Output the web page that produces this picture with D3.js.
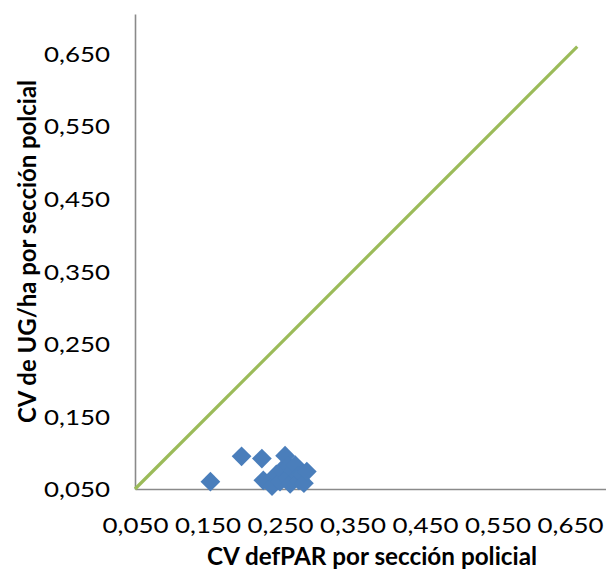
<!DOCTYPE html>
<html>
<head>
<meta charset="utf-8">
<script src="https://cdn.jsdelivr.net/npm/d3@7"></script>
<style>
  html, body { margin: 0; padding: 0; background: #ffffff; }
  svg { display: block; }
  text { font-family: Lato, "Open Sans", sans-serif; fill: #000; }
</style>
</head>
<body>
<svg id="chart" width="606" height="581"></svg>
<script>
// CV of defPAR (x) against CV of UG/ha (y), one point per police section
const cvDefPar = [0.154, 0.197, 0.225, 0.227, 0.239, 0.245, 0.250, 0.252, 0.257, 0.260, 0.262, 0.264, 0.268, 0.271, 0.275, 0.276, 0.280, 0.283, 0.287];
const cvUgHa   = [0.060, 0.095, 0.092, 0.062, 0.054, 0.070, 0.060, 0.076, 0.096, 0.065, 0.082, 0.057, 0.075, 0.083, 0.068, 0.062, 0.070, 0.058, 0.074];

// 1:1 reference line
const refLineX = [0.05, 0.66];
const refLineY = [0.05, 0.66];

const tickValues = [0.05, 0.15, 0.25, 0.35, 0.45, 0.55, 0.65];
const xTitle = "CV defPAR por sección policial";
const yTitle = "CV de UG/ha por sección polcial";

const svg = d3.select("#chart");

const x = d3.scaleLinear().domain([0.05, 0.7]).range([135, 606.25]);
const y = d3.scaleLinear().domain([0.05, 0.705]).range([489, 14]);

const esLocale = d3.formatLocale({ decimal: ",", thousands: ".", grouping: [3], currency: ["", " €"] });
const fmt = esLocale.format(".3f");

// Axes
const xAxis = svg.append("g")
  .attr("transform", `translate(0,${y(0.05)})`)
  .call(d3.axisBottom(x).tickValues(tickValues).tickSize(0).tickPadding(0).tickFormat(fmt));
const yAxis = svg.append("g")
  .attr("transform", `translate(${x(0.05)},0)`)
  .call(d3.axisLeft(y).tickValues(tickValues).tickSize(0).tickPadding(0).tickFormat(fmt));

[xAxis, yAxis].forEach(g => {
  g.select(".domain").attr("stroke", "#8a8a8a").attr("stroke-width", 1.6);
  g.selectAll("text").attr("font-size", 21).attr("fill", "#000")
    .attr("textLength", 66).attr("lengthAdjust", "spacingAndGlyphs");
});
xAxis.selectAll(".tick text").attr("y", 44).attr("dy", 0).attr("text-anchor", "middle");
yAxis.selectAll(".tick text").attr("x", -25).attr("dy", "0.36em").attr("text-anchor", "end");

// 1:1 line
const line = d3.line().x(d => x(d[0])).y(d => y(d[1]));
svg.append("path")
  .datum(d3.zip(refLineX, refLineY))
  .attr("d", line)
  .attr("fill", "none")
  .attr("stroke", "#9BBB59")
  .attr("stroke-width", 3.2);

// Diamond markers
const diamond = d3.symbol().type(d3.symbolSquare).size(195);
svg.append("g")
  .selectAll("path")
  .data(d3.zip(cvDefPar, cvUgHa))
  .join("path")
  .attr("d", diamond)
  .attr("transform", d => `translate(${x(d[0])},${y(d[1])}) rotate(45)`)
  .attr("fill", "#4A7EBB");

// Axis titles
svg.append("text")
  .attr("x", 372).attr("y", 565)
  .attr("text-anchor", "middle")
  .attr("font-size", 24).attr("font-weight", "bold")
  .attr("textLength", 330).attr("lengthAdjust", "spacingAndGlyphs")
  .text(xTitle);

svg.append("text")
  .attr("transform", "translate(36,251.5) rotate(-90)")
  .attr("text-anchor", "middle")
  .attr("font-size", 24).attr("font-weight", "bold")
  .attr("textLength", 343).attr("lengthAdjust", "spacingAndGlyphs")
  .text(yTitle);
</script>
</body>
</html>
